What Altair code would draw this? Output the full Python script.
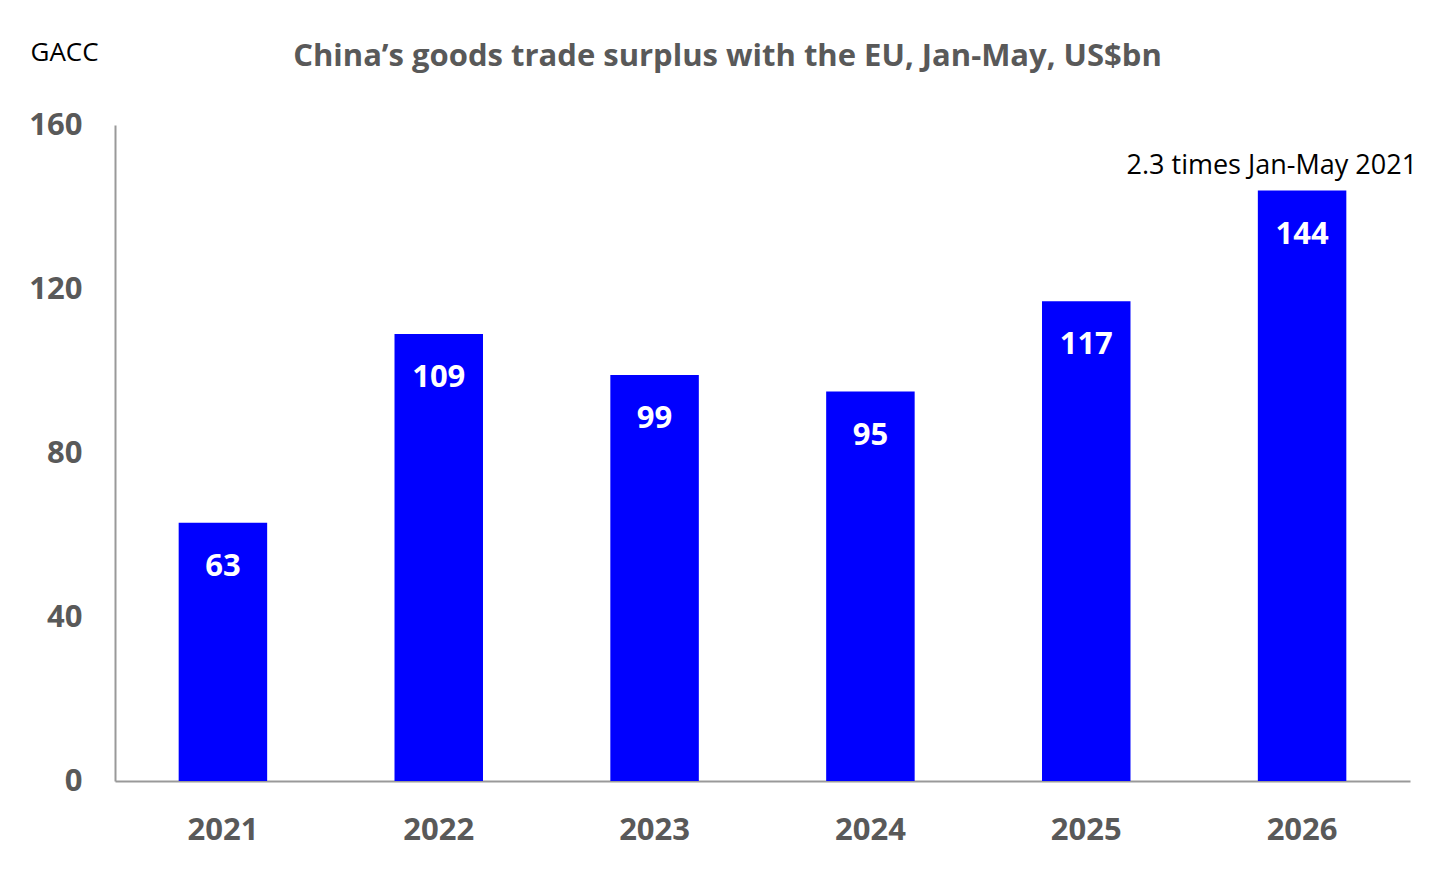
import altair as alt
import pandas as pd

years = ["2021", "2022", "2023", "2024", "2025", "2026"]
surplus = [63, 109, 99, 95, 117, 144]
note_text = "2.3 times Jan-May 2021"

df = pd.DataFrame({"year": years, "value": surplus})
df["note"] = [""] * (len(years) - 1) + [note_text]

FONT = "Open Sans"
GREY = "#595959"

x = alt.X("year:N", sort=years,
          scale=alt.Scale(paddingInner=0.59, paddingOuter=0.295),
          axis=alt.Axis(title=None, labelFont=FONT, labelFontSize=31, labelFontWeight="bold",
                        labelColor=GREY, labelPadding=34, ticks=False, domainColor="#999999",
                        domainWidth=2, labelAngle=0))
y = alt.Y("value:Q", scale=alt.Scale(domain=[0, 160], nice=False),
          axis=alt.Axis(title="GACC", values=[0, 40, 80, 120, 160], labelFont=FONT,
                        labelFontSize=31, labelFontWeight="bold", labelColor=GREY,
                        labelPadding=33, ticks=False, grid=False, domainColor="#999999",
                        domainWidth=2, titleAngle=0, titleAlign="left", titleBaseline="alphabetic",
                        titleX=-85, titleY=-65, titleFont=FONT, titleFontSize=26,
                        titleFontWeight="normal", titleColor="#000000"))

base = alt.Chart(df)
bars = base.mark_bar(color="#0000FF").encode(x=x, y=y)
labels = base.mark_text(font=FONT, fontSize=31, fontWeight="bold", color="white",
                        baseline="middle", dy=44).encode(x=x, y=y, text="value:Q")
note = base.mark_text(font=FONT, fontSize=27, color="#000000", align="right",
                      baseline="alphabetic", dx=115, dy=-17).encode(x=x, y=y, text="note:N")

chart = alt.layer(bars, labels, note).properties(
    width=1295, height=656,
    autosize=alt.AutoSizeParams(type="none"),
    padding={"left": 107, "top": 117, "right": 38, "bottom": 85},
    background="white",
    title=alt.TitleParams("China’s goods trade surplus with the EU, Jan-May, US$bn",
                          font=FONT, fontSize=31, fontWeight="bold", color=GREY,
                          anchor="middle", dx=-35, offset=-58, baseline="alphabetic"),
).configure_view(stroke=None)

chart.save("out.html", embed_options={"renderer": "svg", "actions": False})
